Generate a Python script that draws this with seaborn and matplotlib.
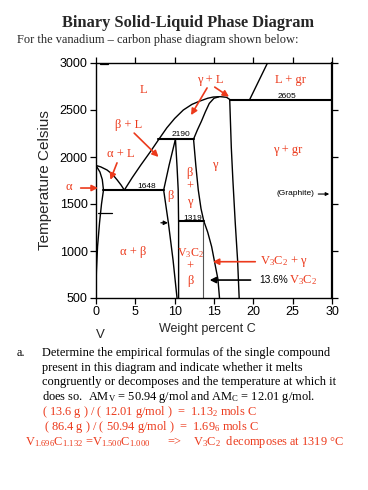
import matplotlib.pyplot as plt
import seaborn as sns

# phase boundaries of the V-C diagram (weight % C, degrees C)
liq_alpha_x = [0.0, 0.6, 1.4, 2.1, 2.7, 3.2, 3.6]
liq_alpha_t = [1910, 1895, 1862, 1815, 1755, 1700, 1648]
sol_alpha_x = [0.0, 0.5, 0.8, 0.95]
sol_alpha_t = [1910, 1840, 1760, 1648]
solvus_alpha_x = [0.95, 0.7, 0.45, 0.2, 0.05, 0.0]
solvus_alpha_t = [1648, 1500, 1300, 1050, 780, 600]
liq_upper_x = [3.6, 4.6, 5.7, 6.9, 8.0, 9.0, 10.0, 11.1, 12.2, 13.2, 14.2, 14.9, 15.8, 16.6, 17.0]
liq_upper_t = [1648, 1780, 1915, 2055, 2190, 2310, 2410, 2500, 2560, 2595, 2625, 2638, 2642, 2635, 2612]
sol_gamma_x = [12.4, 12.9, 13.4, 13.9, 14.4, 15.0, 15.6]
sol_gamma_t = [2190, 2290, 2380, 2480, 2570, 2625, 2640]
beta_left_x = [10.1, 9.3, 8.6, 9.2, 9.8, 10.3]
beta_left_t = [2190, 1915, 1648, 1300, 900, 500]
beta_right_x = [10.1, 10.3, 10.45, 10.5, 10.5]
beta_right_t = [2190, 1900, 1650, 1300, 500]
gamma_left_x = [12.4, 12.7, 13.0, 13.35, 13.7, 14.2, 14.7, 15.1, 15.5, 15.7]
gamma_left_t = [2190, 1900, 1650, 1450, 1319, 1200, 1046, 872, 700, 500]
gamma_right_x = [17.0, 17.2, 17.4, 17.7, 18.0, 18.2]
gamma_right_t = [2605, 2100, 1755, 1300, 900, 500]
liq_gr_x = [19.5, 21.8]
liq_gr_t = [2605, 3000]
v3c2_x = [13.6, 13.6]
v3c2_t = [1319, 500]

# invariant lines
iso_t = [2605, 2190, 1648, 1319]
iso_x0 = [17.0, 7.9, 0.95, 10.5]
iso_x1 = [30.0, 12.4, 8.6, 13.7]

RED = "#ec3a1c"
SERIF = "Liberation Serif"
SANS = "Liberation Sans"

sns.set_style("ticks")
plt.rcParams["font.family"] = [SANS, "DejaVu Sans"]
plt.rcParams["mathtext.fontset"] = "custom"
plt.rcParams["mathtext.rm"] = SERIF
plt.rcParams["mathtext.it"] = SERIF + ":italic"
plt.rcParams["mathtext.bf"] = SERIF + ":bold"

fig = plt.figure(figsize=(3.68, 4.9), dpi=100)
ax = fig.add_axes([96 / 368, 1 - 298 / 490, 236 / 368, 235 / 490])

curves = [
    (liq_alpha_x, liq_alpha_t), (sol_alpha_x, sol_alpha_t), (solvus_alpha_x, solvus_alpha_t),
    (liq_upper_x, liq_upper_t), (sol_gamma_x, sol_gamma_t), (beta_left_x, beta_left_t),
    (beta_right_x, beta_right_t), (gamma_left_x, gamma_left_t), (gamma_right_x, gamma_right_t),
    (liq_gr_x, liq_gr_t),
]
for xs, ts in curves:
    sns.lineplot(x=xs, y=ts, ax=ax, color="black", lw=1.0, sort=False, estimator=None)
sns.lineplot(x=v3c2_x, y=v3c2_t, ax=ax, color="#555555", lw=0.8, sort=False, estimator=None)
for t, a, b in zip(iso_t, iso_x0, iso_x1):
    sns.lineplot(x=[a, b], y=[t, t], ax=ax, color="black", lw=1.5, sort=False, estimator=None)

# small marks on the original figure
ax.plot([0.3, 2.0], [1400, 1400], color="black", lw=0.9)
ax.plot([0.5, 1.5], [2985, 2985], color="black", lw=0.9)
ax.annotate("", xy=(9.5, 1300), xytext=(7.9, 1300),
            arrowprops=dict(arrowstyle="-|>", color="black", lw=0.9, mutation_scale=6))

ax.set_xlim(0, 30)
ax.set_ylim(500, 3000)
ax.set_xticks(range(0, 31, 5))
ax.set_yticks(range(500, 3001, 500))
ax.tick_params(direction="out", length=4, width=0.9, top=True, right=True,
               labelsize=9, pad=2, colors="black")
for s in ax.spines.values():
    s.set_linewidth(1.0)
    s.set_color("black")
ax.spines["right"].set_linewidth(1.6)

ax.set_ylabel("Temperature Celsius", fontsize=11)
ax.yaxis.set_label_coords(-0.185, 0.5)
ax.set_xlabel("Weight percent C", fontsize=9)
ax.xaxis.set_label_coords(0.47, -0.105)
ax.text(0.02, -0.13, "V", transform=ax.transAxes, fontsize=9.5, ha="center", va="top")

# black numbers on the diagram
small = dict(fontsize=6, color="black", ha="center", va="center")
ax.text(10.8, 2235, "2190", **small)
ax.text(6.4, 1684, "1648", **small)
ax.text(12.25, 1350, "1319", **small)
ax.text(24.3, 2642, "2605", **small)
ax.text(25.4, 1613, "(Graphite)", **small)
ax.annotate("", xy=(30, 1606), xytext=(27.9, 1606),
            arrowprops=dict(arrowstyle="-|>", color="black", lw=0.8, mutation_scale=5))

# red phase labels
lab = dict(fontsize=9, color=RED, family=SERIF, ha="center", va="center")
ax.text(6.0, 2713, "L", **lab)
ax.text(14.5, 2819, "γ + L", **lab)
ax.text(24.7, 2819, "L + gr", **lab)
ax.text(24.3, 2074, "γ + gr", **lab)
ax.text(4.1, 2340, "β + L", **lab)
ax.text(3.1, 2030, "α + L", **lab)
ax.text(15.1, 1915, "γ", **lab)
ax.text(11.9, 1830, "β", **lab)
ax.text(11.9, 1680, "+", **lab)
ax.text(11.9, 1525, "γ", **lab)
ax.text(9.5, 1590, "β", **lab)
ax.text(4.7, 993, "α + β", **lab)
ax.text(12.0, 975, r"V$_3$C$_2$", fontsize=8.6, color=RED, family=SERIF, ha="center", va="center")
ax.text(12.0, 835, "+", **lab)
ax.text(12.0, 685, "β", **lab)
ax.text(-3.5, 1680, "α", clip_on=False, **lab)
ax.text(20.8, 886, r"V$_3$C$_2$ + γ", fontsize=9, color=RED, family=SERIF, ha="left", va="center")
ax.text(20.8, 691, "13.6%", fontsize=7.3, color="black", ha="left", va="center")
ax.text(24.5, 691, r"V$_3$C$_2$", fontsize=9, color=RED, family=SERIF, ha="left", va="center")

red_arrow = dict(arrowstyle="-|>", color=RED, lw=1.2, mutation_scale=9)
for tip, tail in [((11.9, 2420), (14.3, 2760)), ((17.2, 2625), (14.8, 2760)),
                  ((8.2, 1980), (4.6, 2275)), ((1.7, 1730), (2.8, 1965)),
                  ((0.6, 1670), (-2.3, 1670)), ((14.5, 886), (20.6, 886))]:
    ax.annotate("", xy=tip, xytext=tail, arrowprops=red_arrow, annotation_clip=False)
ax.annotate("", xy=(14.1, 691), xytext=(20.0, 691),
            arrowprops=dict(arrowstyle="-|>", color="black", lw=1.2, mutation_scale=9))

# page text
def px(x, y):
    return x / 368, 1 - y / 490

fig.text(*px(188, 27), "Binary Solid-Liquid Phase Diagram", family=SERIF, fontweight="bold",
         fontsize=11.8, ha="center", va="baseline")
fig.text(*px(17, 43), "For the vanadium – carbon phase diagram shown below:", family=SERIF,
         fontsize=8.9, ha="left", va="baseline")

body = dict(family=SERIF, fontsize=8.9, ha="left", va="baseline", color="black")
fig.text(*px(17, 356), "a.", **body)
fig.text(*px(42, 356), "Determine the empirical formulas of the single compound", **body)
fig.text(*px(42, 370.5), "present in this diagram and indicate whether it melts", **body)
fig.text(*px(42, 385), "congruently or decomposes and the temperature at which it", **body)
fig.text(*px(42, 399.5), r"does so.  AM$_\mathrm{V}$ = 50.94 g/mol and AM$_\mathrm{C}$ = 12.01 g/mol.", **body)

redtxt = dict(family=SERIF, fontsize=8.9, ha="left", va="baseline", color=RED)
fig.text(*px(42, 415), r"( 13.6 g ) / ( 12.01 g/mol )  =  1.13$_2$ mols C", **redtxt)
fig.text(*px(44, 430), r"( 86.4 g ) / ( 50.94 g/mol )  =  1.69$_6$ mols C", **redtxt)
fig.text(*px(25, 445), r"V$_{1.696}$C$_{1.132}$ =V$_{1.500}$C$_{1.000}$", **redtxt)
fig.text(*px(167, 445), "=>", **redtxt)
fig.text(*px(193, 445), r"V$_3$C$_2$  decomposes at 1319 °C", **redtxt)

fig.savefig("out.png", dpi=100)
